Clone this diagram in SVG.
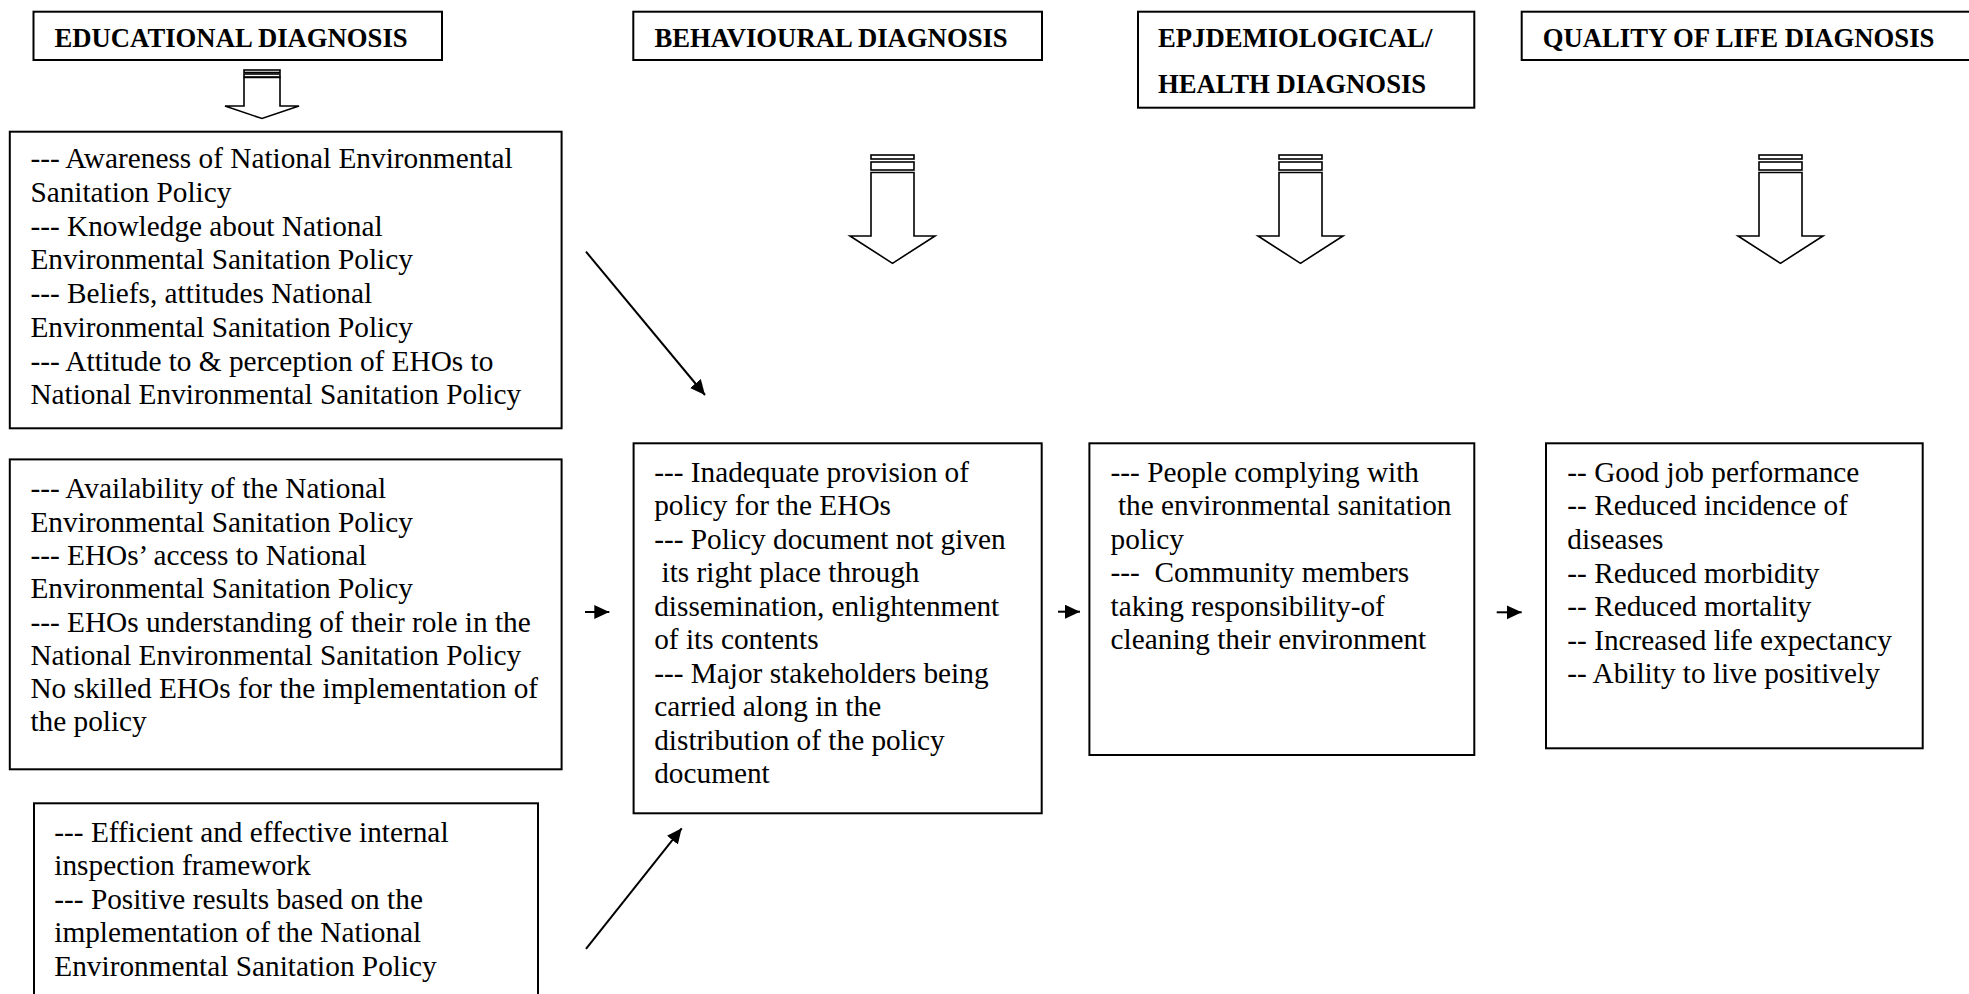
<svg xmlns="http://www.w3.org/2000/svg" width="1969" height="994" viewBox="0 0 1969 994">
<style>
.box{fill:#fff;stroke:#000;stroke-width:2}
.hd{font-family:"Liberation Serif","Times New Roman",serif;font-weight:bold;font-size:26.7px;fill:#000}
.t{font-family:"Liberation Serif","Times New Roman",serif;font-size:29.3px;fill:#000}
.blk{fill:#fff;stroke:#000;stroke-width:1.6}
.con{stroke:#000;stroke-width:2;fill:none}
</style>
<defs>
<marker id="ah" markerUnits="userSpaceOnUse" markerWidth="16" markerHeight="15" refX="15" refY="7" orient="auto">
<path d="M0,0 L15,7 L0,14 Z" fill="#000"/>
</marker>
</defs>
<rect width="1969" height="994" fill="#fff"/>

<g id="hdr-educational">
<rect class="box" x="33.5" y="11.7" width="408.5" height="48.3"/>
<text class="hd" x="54.5" y="46.7">EDUCATIONAL DIAGNOSIS</text>
</g>
<g id="hdr-behavioural">
<rect class="box" x="633.3" y="11.7" width="408.7" height="48.3"/>
<text class="hd" x="654.5" y="46.7">BEHAVIOURAL DIAGNOSIS</text>
</g>
<g id="hdr-epidemiological">
<rect class="box" x="1138" y="11.7" width="336.3" height="96"/>
<text class="hd" x="1158" y="46.7">EPJDEMIOLOGICAL/</text>
<text class="hd" x="1158" y="92.5">HEALTH DIAGNOSIS</text>
</g>
<g id="hdr-quality">
<rect class="box" x="1521.7" y="11.7" width="460" height="48.3"/>
<text class="hd" x="1542.7" y="46.7">QUALITY OF LIFE DIAGNOSIS</text>
</g>

<g id="blockarrow-educational">
<rect class="blk" x="244" y="70" width="36" height="2.5"/>
<rect class="blk" x="244" y="74" width="36" height="3"/>
<path class="blk" d="M244,77.5 L280,77.5 L280,106 L299,106 L262,118.5 L225,106 L244,106 Z"/>
</g>
<g id="blockarrow-behavioural">
<rect class="blk" x="871" y="155" width="43" height="4"/>
<rect class="blk" x="871" y="162" width="43" height="8"/>
<path class="blk" d="M871,172.5 L914,172.5 L914,236 L935,236 L892.5,263.3 L850,236 L871,236 Z"/>
</g>
<g id="blockarrow-epidemiological">
<rect class="blk" x="1279" y="155" width="43" height="4"/>
<rect class="blk" x="1279" y="162" width="43" height="8"/>
<path class="blk" d="M1279,172.5 L1322,172.5 L1322,236 L1343,236 L1300.5,263.3 L1258,236 L1279,236 Z"/>
</g>
<g id="blockarrow-quality">
<rect class="blk" x="1759" y="155" width="43" height="4"/>
<rect class="blk" x="1759" y="162" width="43" height="8"/>
<path class="blk" d="M1759,172.5 L1802,172.5 L1802,236 L1823,236 L1780.5,263.3 L1738,236 L1759,236 Z"/>
</g>

<g id="node-awareness">
<rect class="box" x="9.8" y="131.7" width="551.8" height="296.6"/>
<text class="t" xml:space="preserve"><tspan x="30.4" y="168.3">--- Awareness of National Environmental</tspan><tspan x="30.4" y="202">Sanitation Policy</tspan><tspan x="30.4" y="235.7">--- Knowledge about National</tspan><tspan x="30.4" y="269.4">Environmental Sanitation Policy</tspan><tspan x="30.4" y="303.1">--- Beliefs, attitudes National</tspan><tspan x="30.4" y="336.8">Environmental Sanitation Policy</tspan><tspan x="30.4" y="370.5">--- Attitude to &amp; perception of EHOs to</tspan><tspan x="30.4" y="404.2">National Environmental Sanitation Policy</tspan></text>
</g>
<g id="node-availability">
<rect class="box" x="9.8" y="459.4" width="551.8" height="309.9"/>
<text class="t" xml:space="preserve"><tspan x="30.4" y="498.3">--- Availability of the National</tspan><tspan x="30.4" y="531.6">Environmental Sanitation Policy</tspan><tspan x="30.4" y="564.9">--- EHOs’ access to National</tspan><tspan x="30.4" y="598.2">Environmental Sanitation Policy</tspan><tspan x="30.4" y="631.5">--- EHOs understanding of their role in the</tspan><tspan x="30.4" y="664.8">National Environmental Sanitation Policy</tspan><tspan x="30.4" y="698.1">No skilled EHOs for the implementation of</tspan><tspan x="30.4" y="731.4">the policy</tspan></text>
</g>
<g id="node-inspection">
<rect class="box" x="34" y="803.3" width="504" height="200"/>
<text class="t" xml:space="preserve"><tspan x="54.3" y="841.5">--- Efficient and effective internal</tspan><tspan x="54.3" y="875">inspection framework</tspan><tspan x="54.3" y="908.5">--- Positive results based on the</tspan><tspan x="54.3" y="942">implementation of the National</tspan><tspan x="54.3" y="975.5">Environmental Sanitation Policy</tspan></text>
</g>
<g id="node-behavioural">
<rect class="box" x="633.6" y="443.3" width="408.1" height="370"/>
<text class="t" xml:space="preserve"><tspan x="654.2" y="481.5">--- Inadequate provision of</tspan><tspan x="654.2" y="515">policy for the EHOs</tspan><tspan x="654.2" y="548.5">--- Policy document not given</tspan><tspan x="654.2" y="582"> its right place through</tspan><tspan x="654.2" y="615.5">dissemination, enlightenment</tspan><tspan x="654.2" y="649">of its contents</tspan><tspan x="654.2" y="682.5">--- Major stakeholders being</tspan><tspan x="654.2" y="716">carried along in the</tspan><tspan x="654.2" y="749.5">distribution of the policy</tspan><tspan x="654.2" y="783">document</tspan></text>
</g>
<g id="node-epidemiological">
<rect class="box" x="1089.4" y="443.3" width="384.9" height="311.7"/>
<text class="t" xml:space="preserve"><tspan x="1110.6" y="481.5">--- People complying with</tspan><tspan x="1110.6" y="515"> the environmental sanitation</tspan><tspan x="1110.6" y="548.5">policy</tspan><tspan x="1110.6" y="582">---  Community members</tspan><tspan x="1110.6" y="615.5">taking responsibility-of</tspan><tspan x="1110.6" y="649">cleaning their environment</tspan></text>
</g>
<g id="node-quality">
<rect class="box" x="1546" y="443.3" width="376.7" height="305"/>
<text class="t" xml:space="preserve"><tspan x="1567.3" y="481.7">-- Good job performance</tspan><tspan x="1567.3" y="515.3">-- Reduced incidence of</tspan><tspan x="1567.3" y="548.9">diseases</tspan><tspan x="1567.3" y="582.5">-- Reduced morbidity</tspan><tspan x="1567.3" y="616.1">-- Reduced mortality</tspan><tspan x="1567.3" y="649.7">-- Increased life expectancy</tspan><tspan x="1567.3" y="683.3">-- Ability to live positively</tspan></text>
</g>

<g id="connectors">
<line class="con" x1="586" y1="251.7" x2="705" y2="395" marker-end="url(#ah)"/>
<line class="con" x1="586" y1="948.8" x2="681.7" y2="828.3" marker-end="url(#ah)"/>
<line class="con" x1="585" y1="612" x2="609.3" y2="612" marker-end="url(#ah)"/>
<line class="con" x1="1058" y1="611.7" x2="1080" y2="611.7" marker-end="url(#ah)"/>
<line class="con" x1="1496.7" y1="612.3" x2="1521.7" y2="612.3" marker-end="url(#ah)"/>
</g>
</svg>
